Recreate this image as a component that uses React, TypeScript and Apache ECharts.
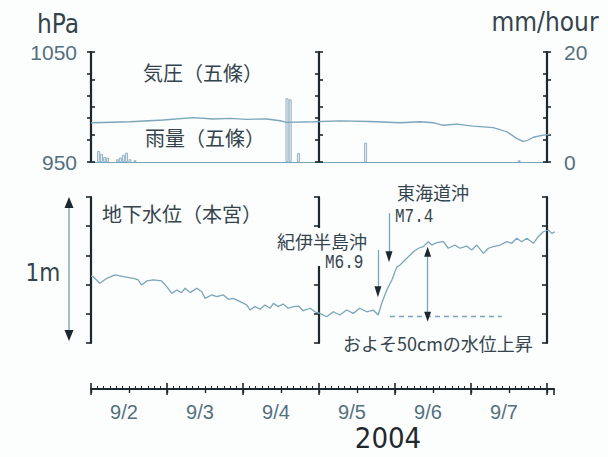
import React, { useEffect, useRef } from 'react';
import * as echarts from 'echarts';

// ---------- data ----------
const dayLabels = ['9/2', '9/3', '9/4', '9/5', '9/6', '9/7'];
const yearLabel = '2004';

// hours since 2004-09-02 00:00
const pressureHours = [0, 0.7, 12.3, 22.8, 32.3, 38.6, 43.9, 49.2, 55.5, 59.7, 61.8, 70.2, 78.6, 88.1, 97.6, 103.9, 108.1, 111.2, 115.5, 120.7, 127.0, 131.3, 134.4, 136.5, 138.1, 139.7, 142.8, 145.0];
const pressureHpa = [985.5, 985.7, 986.6, 988.2, 990.3, 989.1, 989.7, 988.8, 989.1, 987.5, 986.1, 986.6, 987.3, 986.8, 985.7, 986.6, 985.7, 983.4, 984.5, 982.7, 981.2, 977.5, 971.5, 968.5, 970.0, 972.5, 974.5, 975.2];

const rainHours = [2.4, 3.3, 4.3, 5.2, 8.4, 9.3, 10.3, 11.2, 12.3, 13.9, 61.9, 62.9, 65.5, 86.7, 135.2];
const rainMm = [2.0, 1.5, 0.9, 0.8, 0.5, 0.8, 1.3, 1.7, 0.5, 0.3, 11.6, 11.4, 1.6, 3.5, 0.3];

const waterHours = [0, 0.7, 2.8, 5.0, 7.6, 10.2, 13.4, 14.9, 16.0, 17.6, 19.7, 22.3, 23.9, 25.5, 27.1, 28.6, 29.7, 31.3, 33.4, 35.0, 36.0, 38.1, 39.7, 41.8, 43.4, 44.9, 47.1, 49.2, 50.2, 51.8, 53.4, 54.9, 56.5, 57.6, 59.1, 60.7, 62.3, 63.9, 65.5, 67.0, 69.2, 70.7, 72.3, 74.4, 76.5, 78.6, 80.7, 82.8, 84.9, 87.1, 89.1, 90.7, 91.8, 93.4, 95.0, 96.5, 97.6, 98.6, 100.2, 101.8, 103.4, 104.9, 106.5, 107.6, 109.2, 111.3, 112.8, 114.9, 116.5, 118.6, 120.2, 121.8, 123.9, 125.5, 127.0, 129.2, 131.3, 132.9, 134.4, 136.0, 137.6, 139.7, 141.2, 142.8, 144.4, 145.5, 146.5];
const waterCm = [45.8, 45.4, 40.9, 44.3, 46.6, 45.4, 44.3, 43.2, 39.7, 42.5, 43.2, 42.5, 38.6, 34.0, 36.3, 34.5, 37.5, 34.5, 37.5, 35.1, 30.6, 32.9, 31.7, 32.9, 29.9, 30.6, 28.3, 26.0, 22.6, 24.9, 23.1, 26.0, 23.8, 27.2, 24.9, 26.7, 23.8, 24.9, 25.3, 22.1, 23.8, 21.4, 20.3, 18.0, 21.4, 19.2, 22.6, 20.3, 23.8, 21.4, 22.6, 19.2, 27.2, 36.3, 43.2, 51.8, 53.4, 55.7, 59.1, 62.5, 64.9, 66.0, 69.4, 67.1, 68.7, 69.4, 64.9, 67.1, 64.9, 66.4, 63.7, 67.1, 61.4, 64.9, 66.0, 67.1, 69.4, 68.3, 71.7, 69.4, 71.7, 68.3, 72.8, 76.2, 77.4, 75.1, 76.2];

// earthquake arrows: hour, arrow top cm, arrow tip cm
const quakeNames = ['紀伊半島沖', '東海道沖'];
const quakeMags = ['M6.9', 'M7.4'];
const quakeHours = [90.6, 94.1];
const quakeFrom = [63.7, 89.0];
const quakeTo = [35.1, 59.1];

// rise annotation
const riseBaseCm = 18.0;
const riseTopCm = 62.5;
const riseArrowHour = 106.3;
const riseDashHours = [94.4, 129.7];
const riseText = 'およそ50cmの水位上昇';

// ---------- layout / style ----------
const X_MAX = 146.2;
const GRID_LEFT = 91;
const GRID_RIGHT_PX = 554;
const PX_PER_H = (GRID_RIGHT_PX - GRID_LEFT) / X_MAX;
const MID_HOUR = 72;
const RIGHT_HOUR = 144;
const midOffset = -MID_HOUR * PX_PER_H;
const rightOffset = -(X_MAX - RIGHT_HOUR) * PX_PER_H;

const AXIS = '#1d282e';
const BLUE = '#7aa5ba';
const TEXT_DARK = '#34444d';
const TEXT_MID = '#53707e';
const BG = '#fcfdfd';
const NARROW = '"Liberation Sans Narrow", "DejaVu Sans Condensed", "Liberation Sans", sans-serif';
const SANS = '"Liberation Sans", Arial, sans-serif';
const CJK = '"Noto Sans CJK JP", sans-serif';
const MONO = '"Liberation Mono", "DejaVu Sans Mono", monospace';

const tickAxis = (grid: number, pos: string, offset: number, min: number, max: number, interval: number, inside: boolean, len: number, showLine: boolean) => ({
  type: 'value', gridIndex: grid, position: pos, offset, min, max, interval,
  axisLine: { show: showLine, onZero: false, lineStyle: { color: AXIS, width: 2.2 } },
  axisTick: { show: true, inside, length: len, lineStyle: { color: AXIS, width: 1.6 } },
  axisLabel: { show: false }, splitLine: { show: false },
});

export default function App() {
  const ref = useRef<HTMLDivElement>(null);
  useEffect(() => {
    if (!ref.current) return;
    const chart = echarts.init(ref.current, undefined, { renderer: 'svg' });

    const headLen = 1.5;
    const markData: any[] = [];
    markData.push([
      { coord: [riseDashHours[0], riseBaseCm], symbol: 'none', lineStyle: { type: [5, 4], color: BLUE, width: 1.4 } },
      { coord: [riseDashHours[1], riseBaseCm], symbol: 'none' },
    ]);
    markData.push([
      { coord: [riseArrowHour, riseBaseCm], symbol: 'none', lineStyle: { color: BLUE, width: 1.3, type: 'solid' } },
      { coord: [riseArrowHour, riseTopCm], symbol: 'none' },
    ]);
    markData.push([
      { coord: [riseArrowHour, riseTopCm - headLen], symbol: 'none', lineStyle: { color: AXIS, width: 1, type: 'solid' } },
      { coord: [riseArrowHour, riseTopCm], symbol: 'triangle', symbolSize: [7, 10] },
    ]);
    markData.push([
      { coord: [riseArrowHour, riseBaseCm + headLen], symbol: 'none', lineStyle: { color: AXIS, width: 1, type: 'solid' } },
      { coord: [riseArrowHour, riseBaseCm], symbol: 'triangle', symbolSize: [7, 10] },
    ]);
    quakeHours.forEach((h, i) => {
      markData.push([
        { coord: [h, quakeFrom[i]], symbol: 'none', lineStyle: { color: BLUE, width: 1.3, type: 'solid' } },
        { coord: [h, quakeTo[i]], symbol: 'none' },
      ]);
      markData.push([
        { coord: [h, quakeTo[i] + headLen], symbol: 'none', lineStyle: { color: AXIS, width: 1, type: 'solid' } },
        { coord: [h, quakeTo[i]], symbol: 'triangle', symbolSize: [7, 11] },
      ]);
    });

    const txt = (text: string, x: number, y: number, font: string, size: number, color: string, align = 'left', extra: any = {}) => ({
      type: 'text', x, y, z: 200, ...extra,
      style: { text, fontFamily: font, fontSize: size, fill: color, align, verticalAlign: 'middle' },
    });

    const hiddenY = (grid: number) => ({ type: 'value', gridIndex: grid, min: 0, max: 1, show: false, axisLine: { onZero: false } });

    const option: any = {
      animation: false,
      backgroundColor: BG,
      grid: [
        { left: GRID_LEFT, width: GRID_RIGHT_PX - GRID_LEFT, top: 52, height: 110 },
        { left: GRID_LEFT, width: GRID_RIGHT_PX - GRID_LEFT, top: 197, height: 146 },
        { left: GRID_LEFT, width: GRID_RIGHT_PX - GRID_LEFT, top: 387, height: 2 },
        { left: GRID_LEFT, width: RIGHT_HOUR * PX_PER_H, top: 387, height: 2 },
      ],
      xAxis: [
        { type: 'value', gridIndex: 0, position: 'bottom', min: 0, max: X_MAX, axisLine: { show: false, onZero: false }, axisTick: { show: false }, axisLabel: { show: false }, splitLine: { show: false } },
        { type: 'value', gridIndex: 1, position: 'bottom', min: 0, max: X_MAX, show: false, axisLine: { onZero: false } },
        { type: 'value', gridIndex: 2, position: 'bottom', min: 0, max: X_MAX, interval: 24,
          axisLine: { show: true, onZero: false, lineStyle: { color: AXIS, width: 2.2 } },
          axisTick: { show: true, inside: false, length: 6, lineStyle: { color: AXIS, width: 1.6 } },
          axisLabel: { show: false }, splitLine: { show: false } },
        { type: 'value', gridIndex: 3, position: 'bottom', min: 0, max: RIGHT_HOUR, interval: 24,
          axisLine: { show: false, onZero: false },
          axisTick: { show: true, inside: true, length: 6, lineStyle: { color: AXIS, width: 1.6 } },
          minorTick: { show: true, splitNumber: 12, length: 3, lineStyle: { color: AXIS, width: 1 } },
          axisLabel: { show: false }, splitLine: { show: false }, minorSplitLine: { show: false } },
        { type: 'value', gridIndex: 3, position: 'bottom', min: 0, max: RIGHT_HOUR, interval: 12,
          axisLine: { show: false, onZero: false },
          axisTick: { show: true, inside: false, length: 4, lineStyle: { color: AXIS, width: 1.4 } },
          axisLabel: {
            show: true, margin: 13, color: TEXT_MID, fontFamily: SANS, fontSize: 20, padding: [0, 10, 0, 0],
            formatter: (v: number) => (Math.round(v) % 24 === 12 ? dayLabels[Math.round((v - 12) / 24)] || '' : ''),
          },
          splitLine: { show: false } },
        // baseline of the upper panel, from left to right axis
        { type: 'value', gridIndex: 4, position: 'bottom', min: 0, max: RIGHT_HOUR,
          axisLine: { show: true, onZero: false, lineStyle: { color: BLUE, width: 1.2 } }, axisTick: { show: false }, axisLabel: { show: false }, splitLine: { show: false } },
      ],
      yAxis: [
        { type: 'value', gridIndex: 0, position: 'left', min: 950, max: 1050, interval: 50,
          axisLine: { show: false, onZero: false }, axisTick: { show: false }, splitLine: { show: false },
          axisLabel: { show: true, margin: 14, color: TEXT_MID, fontFamily: SANS, fontSize: 21,
            formatter: (v: number) => (v === 950 || v === 1050 ? String(v) : '') } },
        { type: 'value', gridIndex: 0, position: 'right', offset: rightOffset, min: 0, max: 20, interval: 20,
          axisLine: { show: false, onZero: false }, axisTick: { show: false }, splitLine: { show: false },
          axisLabel: { show: true, margin: 17, color: TEXT_MID, fontFamily: SANS, fontSize: 21 } },
        tickAxis(0, 'left', 0, 0, 100, 20, false, 4, true),
        tickAxis(0, 'left', 0, 0, 20, 5, true, 4, false),
        tickAxis(0, 'left', midOffset, 0, 100, 20, false, 4, true),
        tickAxis(0, 'left', midOffset, 0, 20, 5, true, 4, false),
        tickAxis(0, 'right', rightOffset, 0, 100, 20, true, 4, true),
        tickAxis(0, 'right', rightOffset, 0, 20, 5, false, 4, false),
        tickAxis(1, 'left', 0, 0, 100, 20, false, 5, true),
        tickAxis(1, 'left', midOffset, 0, 100, 20, false, 5, true),
        tickAxis(1, 'right', rightOffset, 0, 100, 20, true, 5, true),
        hiddenY(2),
        hiddenY(3),
        hiddenY(4),
      ],
      series: [
        { name: '気圧', type: 'line', xAxisIndex: 0, yAxisIndex: 0, showSymbol: false, symbol: 'none', silent: true,
          lineStyle: { color: BLUE, width: 1.3 }, data: pressureHours.map((h, i) => [h, pressureHpa[i]]) },
        { name: '雨量', type: 'bar', xAxisIndex: 0, yAxisIndex: 1, barWidth: 3, silent: true,
          itemStyle: { color: 'rgba(205,218,226,0.55)', borderColor: '#8fb0c2', borderWidth: 0.9 },
          data: rainHours.map((h, i) => [h, rainMm[i]]) },
        { name: '地下水位', type: 'line', xAxisIndex: 1, yAxisIndex: 8, showSymbol: false, symbol: 'none', silent: true,
          clip: false, lineStyle: { color: BLUE, width: 1.3 },
          data: waterHours.map((h, i) => [h, waterCm[i]]),
          markLine: { silent: true, symbol: ['none', 'none'], label: { show: false }, emphasis: { disabled: true },
            lineStyle: { color: BLUE, width: 1.3, type: 'solid' }, data: markData } },
      ],
      graphic: [
        { type: 'rect', z: 150, shape: { x: GRID_LEFT + MID_HOUR * PX_PER_H - 5, y: 228, width: 10, height: 38 }, style: { fill: BG } },
        txt('hPa', 58, 24, NARROW, 26, TEXT_DARK, 'center'),
        txt('mm/hour', 545, 22, NARROW, 26, TEXT_DARK, 'center'),
        txt('気圧（五條）', 143, 72, CJK, 20, TEXT_DARK),
        txt('雨量（五條）', 145, 137, CJK, 20, TEXT_DARK),
        txt('地下水位（本宮）', 102, 213, CJK, 20, TEXT_DARK),
        txt(quakeNames[1], 397, 192, CJK, 18, TEXT_DARK),
        txt(quakeMags[1], 395, 217, MONO, 16, TEXT_DARK, 'left', { scaleY: 1.3 }),
        txt(quakeNames[0], 277, 241, CJK, 18, TEXT_DARK),
        txt(quakeMags[0], 325, 263, MONO, 16, TEXT_DARK, 'left', { scaleY: 1.3 }),
        txt(riseText, 343, 343, CJK, 18, TEXT_DARK),
        txt('1m', 43, 273, NARROW, 24, TEXT_DARK, 'center'),
        txt(yearLabel, 388, 438, NARROW, 29, '#1f292f', 'center'),
        { type: 'line', z: 100, shape: { x1: 69, y1: 205, x2: 69, y2: 334 }, style: { stroke: BLUE, lineWidth: 1.4 } },
        { type: 'polygon', z: 100, shape: { points: [[69, 197], [64.5, 208], [73.5, 208]] }, style: { fill: AXIS } },
        { type: 'polygon', z: 100, shape: { points: [[69, 341], [64.5, 330], [73.5, 330]] }, style: { fill: AXIS } },
      ],
    };
    option.grid.push({ left: GRID_LEFT, width: RIGHT_HOUR * PX_PER_H, top: 52, height: 110 });
    chart.setOption(option);
    return () => chart.dispose();
  }, []);
  return <div ref={ref} style={{ position: 'absolute', left: 0, top: 0, width: 608, height: 457 }} />;
}
